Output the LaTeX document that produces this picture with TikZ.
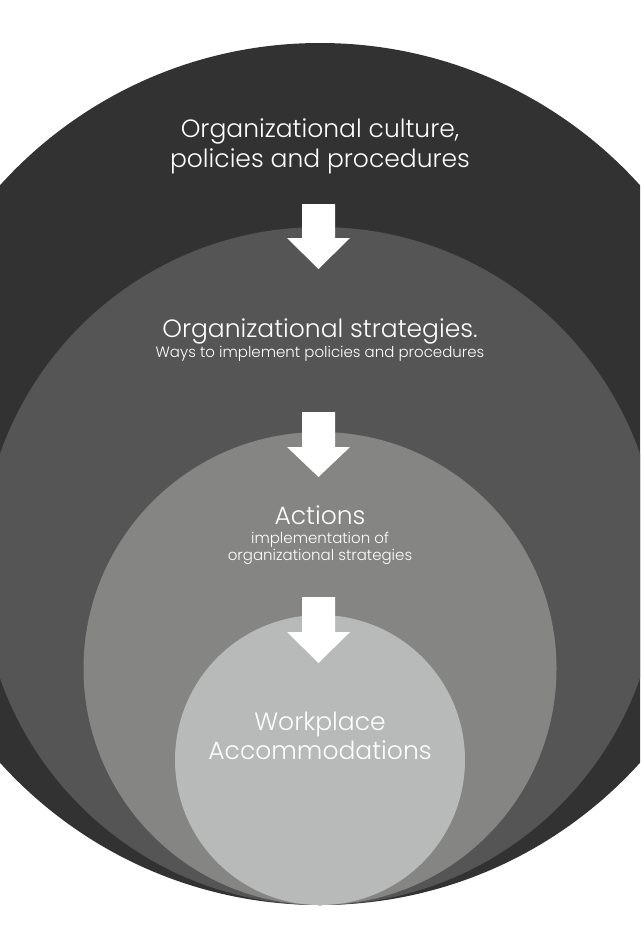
\documentclass[tikz,border=0pt]{standalone}
\usepackage{fontspec}
\setmainfont{Poppins}[UprightFont=* Light]
\definecolor{ringA}{HTML}{323232}
\definecolor{ringB}{HTML}{555555}
\definecolor{ringC}{HTML}{858583}
\definecolor{ringD}{HTML}{B8B9B9}
\tikzset{
  ring/.style={circle, inner sep=0pt, outer sep=0pt, draw=none},
  downarrow/.style={fill=white, draw=none},
  headline/.style={text=white, anchor=base, inner sep=0pt, font=\fontsize{25}{30}\selectfont},
  subline/.style={text=white, anchor=base, inner sep=0pt, font=\fontsize{15}{18}\selectfont},
}
\begin{document}
\begin{tikzpicture}[x=1pt, y=-1pt]
  \useasboundingbox (0,0) rectangle (640,947);
  \clip (0,0) rectangle (640,947);
  \fill[white] (0,0) rectangle (640,947);

  % nested circles, all touching at the bottom
  \node[ring, fill=ringA, minimum size=862pt] (culture) at (320,474) {};
  \node[ring, fill=ringB, minimum size=678pt] (strategies) at (320,566) {};
  \node[ring, fill=ringC, minimum size=473pt] (actions) at (320,668.5) {};
  \node[ring, fill=ringD, minimum size=290pt] (accommodations) at (320,760) {};

  % block arrows between the levels
  \foreach \top/\base/\tip in {204/238/269, 412/447/477, 597/632/663} {
    \fill[downarrow] (302,\top) -- (335,\top) -- (335,\base) -- (350,\base)
      -- (318.5,\tip) -- (287,\base) -- (302,\base) -- cycle;
  }

  % labels
  \node[headline] (t1a) at (320,138) {Organizational culture,};
  \node[headline] (t1b) at (320,167) {policies and procedures};

  \node[headline] (t2a) at (320,337) {Organizational strategies.};
  \node[subline] (t2b) at (320,357) {Ways to implement policies and procedures};

  \node[headline] (t3a) at (320,524) {Actions};
  \node[subline] (t3b) at (320,543) {implementation of};
  \node[subline] (t3c) at (320,560) {organizational strategies};

  \node[headline] (t4a) at (320,730) {Workplace};
  \node[headline] (t4b) at (320,759) {Accommodations};
\end{tikzpicture}
\end{document}
